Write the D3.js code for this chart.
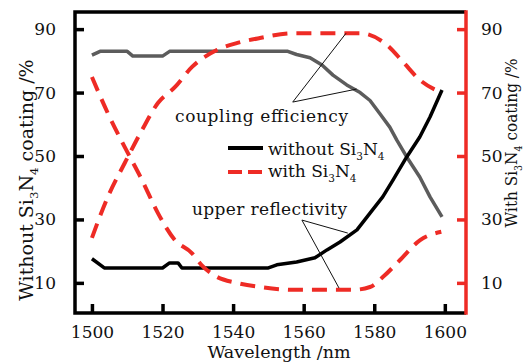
<!DOCTYPE html>
<html>
<head>
<meta charset="utf-8">
<script src="https://cdn.jsdelivr.net/npm/d3@7"></script>
<style>
  body { margin: 0; background: #fff; }
  text { font-family: "DejaVu Serif", "Liberation Serif", serif; fill: #111; }
</style>
</head>
<body>
<div id="chart"></div>
<script>
// ---------------------------------------------------------------
// Data
// ---------------------------------------------------------------
// coupling efficiency, without Si3N4 (grey solid)
const effWithout = [
  [1500, 81.8], [1502.3, 83], [1510, 83], [1511.6, 81.5], [1520, 81.5], [1522, 83],
  [1555.5, 83], [1558, 82], [1561.8, 81], [1565.2, 78.7], [1568.3, 75.5], [1572.2, 72.4],
  [1576, 70], [1578.8, 67.5], [1581.5, 63.5], [1584.4, 59.1], [1586.4, 55], [1589.2, 49.7],
  [1592.9, 43.4], [1595.8, 37.1], [1599.2, 30.8]
];
// upper reflectivity, without Si3N4 (black solid)
const reflWithout = [
  [1500, 17.6], [1503.5, 14.7], [1520, 14.7], [1522, 16.3], [1524.4, 16.3], [1525.5, 14.7],
  [1550, 14.7], [1552.4, 15.7], [1558, 16.6], [1563.2, 17.9], [1566.6, 20.4], [1570.3, 22.9],
  [1575.1, 26.7], [1578.8, 32], [1582.4, 37.1], [1585.3, 42.4], [1589.2, 49.7],
  [1592.9, 56], [1595.8, 62.3], [1599.2, 70.8]
];
// coupling efficiency, with Si3N4 (red dashed)
const effWith = [
  [1500, 24.2], [1504.5, 37.1], [1509.3, 47.8], [1514.2, 58.2], [1518.7, 66.7], [1523.5, 71.7],
  [1528.3, 78], [1535.4, 83.4], [1541, 85.6], [1547.6, 87.2], [1557, 88.7],
  [1564.6, 88.7], [1576, 88.7], [1583.6, 85], [1588.2, 79.6], [1593, 73.9], [1599, 70]
];
// upper reflectivity, with Si3N4 (red dashed)
const reflWith = [
  [1500, 74.9], [1504.5, 63.5], [1509.3, 52.8], [1514.2, 42.4], [1518.7, 32], [1523.5, 23.5],
  [1528.3, 19.4], [1531, 15.7], [1535.4, 11.9], [1541, 10],
  [1547.6, 8.7], [1557, 7.8], [1574, 7.8], [1578.8, 8.7], [1582.5, 11.9], [1587.3, 17.2],
  [1593, 23.5], [1599, 26.1]
];

const xTicks = [1500, 1520, 1540, 1560, 1580, 1600];
const yTicks = [10, 30, 50, 70, 90];

// ---------------------------------------------------------------
// Set up the SVG
// ---------------------------------------------------------------
const W = 526, H = 364;
const margin = { top: 12, right: 60, bottom: 51, left: 75 };
const red = "#ee2b25";

const svg = d3.select("#chart").append("svg")
  .attr("width", W)
  .attr("height", H);

const x = d3.scaleLinear().domain([1495.2, 1606]).range([margin.left, W - margin.right]);
const y = d3.scaleLinear().domain([0.5, 95.4]).range([H - margin.bottom, margin.top]);

const x0 = margin.left, x1 = W - margin.right, y0 = H - margin.bottom, y1 = margin.top;

// ---------------------------------------------------------------
// Axes (ticks inward)
// ---------------------------------------------------------------
const fs = 17;

const gx = svg.append("g")
  .attr("transform", `translate(0,${y0})`)
  .call(d3.axisBottom(x).tickValues(xTicks).tickSize(-9).tickSizeOuter(0).tickPadding(13).tickFormat(d3.format("d")));
gx.select(".domain").remove();
gx.selectAll("line").attr("stroke", "#000").attr("stroke-width", 3.5);
gx.selectAll("text").attr("font-size", fs).attr("font-family", "DejaVu Serif").attr("fill", "#111");

const gyl = svg.append("g")
  .attr("transform", `translate(${x0},0)`)
  .call(d3.axisLeft(y).tickValues(yTicks).tickSize(-9).tickSizeOuter(0).tickPadding(19));
gyl.select(".domain").remove();
gyl.selectAll("line").attr("stroke", "#000").attr("stroke-width", 3.5);
gyl.selectAll("text").attr("font-size", fs).attr("font-family", "DejaVu Serif").attr("fill", "#111");

const gyr = svg.append("g")
  .attr("transform", `translate(${x1},0)`)
  .call(d3.axisRight(y).tickValues(yTicks).tickSize(-9).tickSizeOuter(0).tickPadding(15));
gyr.select(".domain").remove();
gyr.selectAll("line").attr("stroke", red).attr("stroke-width", 3.5);
gyr.selectAll("text").attr("font-size", fs).attr("font-family", "DejaVu Serif").attr("fill", "#111");

// frame
svg.append("path")
  .attr("d", `M${x1},${y1}H${x0}V${y0}H${x1}`)
  .attr("fill", "none").attr("stroke", "#000").attr("stroke-width", 3.5);
svg.append("line")
  .attr("x1", x1).attr("x2", x1).attr("y1", y1 - 1.75).attr("y2", y0 + 1.75)
  .attr("stroke", red).attr("stroke-width", 3.5);

// ---------------------------------------------------------------
// Lines
// ---------------------------------------------------------------
const line = d3.line().x(d => x(d[0])).y(d => y(d[1]));
const smooth = d3.line().x(d => x(d[0])).y(d => y(d[1])).curve(d3.curveMonotoneX);

svg.append("path").datum(effWithout).attr("d", line)
  .attr("fill", "none").attr("stroke", "#5c5c5c").attr("stroke-width", 3.5).attr("stroke-linejoin", "round");
svg.append("path").datum(reflWithout).attr("d", line)
  .attr("fill", "none").attr("stroke", "#000").attr("stroke-width", 3.5).attr("stroke-linejoin", "round");
[effWith, reflWith].forEach(s => {
  svg.append("path").datum(s).attr("d", smooth)
    .attr("fill", "none").attr("stroke", red).attr("stroke-width", 4)
    .attr("stroke-dasharray", "15,9");
});

// ---------------------------------------------------------------
// Annotations
// ---------------------------------------------------------------
const leaders = [
  [[1556.9, 67], [1572, 88.7]],
  [[1556.9, 67], [1575, 71.1]],
  [[1559.5, 29.8], [1572.5, 25.7]],
  [[1559.5, 29.8], [1570, 8.4]]
];
leaders.forEach(l => {
  svg.append("line")
    .attr("x1", x(l[0][0])).attr("y1", y(l[0][1]))
    .attr("x2", x(l[1][0])).attr("y2", y(l[1][1]))
    .attr("stroke", "#111").attr("stroke-width", 1);
});

svg.append("text").attr("x", 175).attr("y", 122).attr("font-size", fs)
  .attr("textLength", 173).text("coupling efficiency");
svg.append("text").attr("x", 192).attr("y", 215).attr("font-size", fs)
  .attr("textLength", 155).text("upper reflectivity");

// Si3N4 with subscripts
function siN(t, prefix, size) {
  t.append("tspan").text(prefix + "Si");
  t.append("tspan").attr("dy", 5).attr("font-size", size * 0.62).text("3");
  t.append("tspan").attr("dy", -5).text("N");
  t.append("tspan").attr("dy", 5).attr("font-size", size * 0.62).text("4");
}

// legend
svg.append("line").attr("x1", 228).attr("x2", 263).attr("y1", 148).attr("y2", 148)
  .attr("stroke", "#000").attr("stroke-width", 4);
svg.append("line").attr("x1", 228).attr("x2", 263).attr("y1", 172).attr("y2", 172)
  .attr("stroke", red).attr("stroke-width", 4).attr("stroke-dasharray", "14,6");
siN(svg.append("text").attr("x", 268).attr("y", 155).attr("font-size", fs), "without ", fs);
siN(svg.append("text").attr("x", 268).attr("y", 177).attr("font-size", fs), "with ", fs);

// axis titles
svg.append("text").attr("x", 279).attr("y", 358).attr("font-size", 17.5)
  .attr("text-anchor", "middle").text("Wavelength /nm");

const tl = svg.append("text").attr("transform", "translate(33,180) rotate(-90)")
  .attr("font-size", 19).attr("text-anchor", "middle");
siN(tl, "Without ", 19);
tl.append("tspan").attr("dy", -5).text(" coating /%");

const tr = svg.append("text").attr("transform", "translate(517,143) rotate(-90) scale(0.9,1)")
  .attr("font-size", 17).attr("text-anchor", "middle");
siN(tr, "With ", 17);
tr.append("tspan").attr("dy", -5).text(" coating /%");
</script>
</body>
</html>
